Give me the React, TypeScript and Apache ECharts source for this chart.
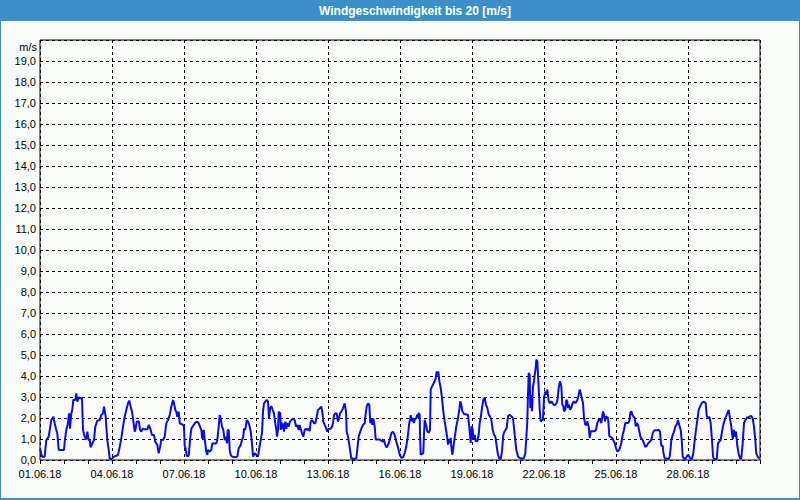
import React, { useEffect, useRef } from "react";
import * as echarts from "echarts";

// Measurement start: 01.06.2018 00:00 (UTC); x values are hours since start
const START_UTC = Date.UTC(2018, 5, 1);
const SPAN_HOURS = 720;
const LABEL_STEP_HOURS = 72;

const hoursSinceStart: number[] = [
  0, 2, 4.7, 6.3, 8.7, 11.3, 13.3, 14.7, 16.3, 17.3, 18.7, 24, 24.7, 26.3, 28, 29, 30, 31.3, 32.3, 33.3,
  35.3, 36.3, 37.3, 38.7, 40.7, 42, 43, 44.7, 46.3, 47.3, 48.7, 49.7, 50.7, 52.3, 54, 55.3, 57.3, 59.7, 61.3, 63,
  64, 65.7, 66.3, 67.3, 68.7, 69.7, 71.3, 74, 78, 79.7, 81.3, 83, 84.7, 86.3, 88, 89.3, 90.7, 92, 93, 94.7,
  95.7, 96.7, 99, 100, 101.3, 102.7, 104.7, 107.3, 108.7, 110.3, 112, 114, 115.3, 117.3, 118.7, 120, 121.3, 123, 124.7, 126.3,
  128, 129.7, 131.3, 133, 134, 135.3, 136.3, 137.3, 138.7, 139.7, 143, 144, 144.7, 145.7, 146.7, 148.7, 150, 151.3, 153, 155.3,
  157.3, 158.7, 160, 161.3, 162.3, 163.7, 164.7, 166.3, 167.3, 168, 169.7, 171.3, 172.3, 176.3, 177.3, 178.7, 179.7, 180.7, 182, 183.3,
  184.7, 186, 187, 187.7, 188.7, 189.7, 190.7, 192, 195.3, 197.3, 198.7, 200.7, 202, 203.3, 204, 205.3, 206.7, 208, 209.3, 210.7,
  212, 213, 214.7, 218, 219.3, 220.7, 222, 223, 224, 226.7, 228, 229, 230, 231.3, 232.7, 234, 235.3, 236.3, 237, 238,
  238.7, 240.3, 240.7, 241.3, 242, 243, 244, 244.7, 245.3, 246.3, 247.3, 248.7, 250, 251.3, 253, 254.7, 256, 257.3, 258.7, 259.7,
  260.7, 262, 263.3, 264.7, 266, 267.3, 268.7, 269.7, 270.7, 272.3, 274, 275.3, 276.7, 278, 279.7, 281.3, 282.3, 283.3, 284.7, 286.3,
  287.3, 288.7, 290.7, 292, 293, 294, 295.3, 296.7, 298, 299, 300, 301.3, 303, 304.7, 306, 306.7, 308, 309.7, 311.3, 314.7,
  316.3, 317.3, 318.7, 319.7, 321.3, 323, 324.7, 325.7, 326.7, 328, 329.3, 330.3, 331.3, 332.3, 333.3, 334.7, 335.7, 339.7, 341.3, 343,
  344, 345.3, 346.7, 348, 349.7, 351.3, 353, 354.7, 356.3, 358, 359.7, 361.3, 363, 364.7, 366.3, 368, 369, 370, 370.7, 372,
  373, 374, 374.7, 376.3, 377.3, 378, 378.7, 379.7, 380, 380.7, 383.3, 384, 384.7, 386, 387.3, 388.7, 390, 390.7, 392, 393.3,
  394.7, 395.7, 396.7, 397.3, 398.3, 399.3, 400.7, 402, 403.3, 404.7, 406, 407.3, 408, 409, 410, 410.7, 411.3, 412.3, 413.3, 414.7,
  416.3, 418, 419.3, 420.3, 421.3, 422.3, 424, 428, 429, 430, 430.7, 431.7, 432.7, 433.3, 434.7, 435.7, 437.3, 438.7, 439.7, 440.7,
  442, 443.3, 444.7, 446, 447.3, 448.7, 450, 451.3, 452.7, 454, 455.3, 456.7, 458, 459.3, 460.7, 462, 463.3, 464.7, 466.7, 468,
  469.7, 471.3, 473, 474.7, 476.3, 478, 479.7, 482, 484, 485.3, 486.3, 487.3, 488, 488.7, 489.7, 490.3, 491.3, 492, 493, 494,
  494.7, 495.7, 496.3, 497.3, 498, 498.7, 499.7, 500.7, 503, 504, 505.3, 506.3, 507.3, 508.7, 510, 511.3, 513, 514.7, 516, 517.3,
  518.7, 520, 521.3, 522.3, 523.3, 524, 525.3, 526.3, 527.3, 528, 529, 530, 531.3, 532.7, 534, 535.3, 536.7, 538, 539.7, 540.7,
  541.7, 543, 544, 545.3, 546.7, 547.3, 548.7, 549.7, 550.7, 554.7, 556, 557.3, 558.7, 560, 561.3, 563, 564, 565, 566, 568,
  568.7, 569.3, 572, 573, 574.7, 576, 577.3, 578.7, 580, 581.3, 582.7, 584, 585.3, 588, 589.3, 590.3, 591.3, 592.3, 593.3, 594.7,
  595.7, 596.7, 598, 599, 600.3, 601.3, 602.7, 604, 605.3, 606.7, 608, 609.7, 611.3, 612.7, 614, 618.7, 620, 620.7, 621.3, 622.7,
  623.3, 624.7, 628.7, 629.7, 630.7, 631.3, 632.7, 634, 635.3, 636.3, 637.3, 638, 639.3, 640.7, 641.7, 642.7, 644, 645.3, 646.7, 648,
  649.3, 650.7, 652, 653.3, 654.7, 656, 657.3, 658.7, 660, 662, 664, 665.7, 666.7, 668, 669.3, 670.7, 672, 673, 674, 676.7,
  678, 679.3, 680.7, 682, 683.3, 684.7, 686, 687.3, 688.7, 690, 691.3, 692.7, 694, 695, 696, 697.3, 698.7, 700, 701.3, 702.7,
  704, 705.3, 707.3, 709.3, 711.3, 712.7, 714, 715.3, 716.3, 718, 719.7,
];

const windSpeed: number[] = [
  0.55, 0.16, 0.16, 0.95, 1.11, 1.9, 2.06, 1.75, 1.43, 1.27, 0.48, 0.48, 0.87, 1.43, 1.75, 2.22, 1.49, 2.22, 2.38, 2.86,
  2.86, 3.17, 2.78, 2.98, 2.94, 2.94, 1.43, 1.11, 0.98, 1.35, 0.95, 0.95, 0.6, 0.79, 0.95, 1.59, 1.87, 1.9, 2.14, 2.22,
  2.54, 2.06, 1.59, 0.95, 0.48, 0.08, 0.03, 0.16, 0.24, 0.63, 1.03, 1.59, 2.06, 2.38, 2.7, 2.83, 2.54, 2.3, 1.98, 1.35,
  1.49, 1.83, 1.83, 1.43, 1.35, 1.49, 1.46, 1.46, 1.67, 1.49, 1.19, 1.19, 0.87, 0.71, 0.32, 0.6, 0.95, 0.95, 1.11, 1.75,
  1.9, 2.14, 2.54, 2.86, 2.7, 2.38, 2.3, 2.06, 2.3, 1.75, 1.67, 1.59, 0.68, 0.52, 0.19, 0.19, 0.95, 1.49, 1.62, 1.78,
  1.83, 1.75, 1.59, 1.43, 1.0, 1.43, 0.98, 0.4, 0.24, 0.48, 0.4, 0.48, 0.79, 0.79, 0.95, 1.59, 2.14, 1.98, 1.59, 1.43,
  0.95, 1.11, 0.79, 1.43, 1.43, 0.48, 0.24, 0.16, 0.13, 0.16, 0.56, 0.71, 0.95, 1.11, 1.49, 1.43, 1.9, 1.83, 1.67, 1.35,
  0.79, 0.16, 0.32, 0.16, 0.56, 0.95, 1.27, 2.3, 2.7, 2.86, 2.78, 1.98, 2.43, 2.57, 2.38, 2.22, 1.75, 1.43, 1.11, 1.43,
  2.3, 2.22, 1.43, 1.83, 1.49, 1.75, 1.35, 1.67, 1.83, 1.49, 1.75, 1.59, 1.83, 1.9, 1.98, 1.9, 1.59, 1.67, 1.43, 1.67,
  1.49, 1.27, 1.11, 1.43, 1.49, 1.43, 1.49, 1.38, 1.83, 1.9, 1.75, 1.75, 2.06, 2.38, 2.46, 2.54, 2.3, 1.83, 1.67, 1.49,
  1.35, 1.49, 1.49, 1.59, 1.75, 2.14, 2.22, 2.22, 1.83, 1.98, 2.22, 2.3, 2.46, 2.7, 2.3, 1.35, 1.11, 0.6, 0.08, 0.05,
  0.08, 0.52, 1.11, 1.27, 1.49, 1.67, 1.75, 2.22, 2.54, 2.7, 2.62, 1.75, 1.98, 1.67, 1.98, 1.59, 0.98, 0.98, 0.92, 0.87,
  0.95, 0.71, 0.6, 0.71, 0.95, 1.27, 1.35, 1.19, 0.87, 0.6, 0.25, 0.1, 0.13, 0.33, 0.65, 1.2, 1.68, 1.92, 2.13, 1.84,
  2.0, 1.76, 1.92, 2.0, 2.16, 2.0, 2.24, 2.16, 1.29, 0.25, 0.33, 1.2, 1.92, 1.68, 1.37, 1.29, 1.44, 3.35, 3.5, 3.62,
  3.75, 3.9, 4.22, 4.03, 4.22, 3.78, 3.43, 2.95, 2.32, 1.84, 1.44, 1.05, 0.73, 0.97, 0.81, 1.05, 0.65, 0.25, 0.57, 1.05,
  1.6, 2.0, 2.4, 2.79, 2.63, 2.32, 2.19, 2.16, 1.68, 1.2, 0.81, 1.6, 1.44, 0.97, 1.2, 0.89, 0.89, 1.2, 1.76, 2.0,
  2.48, 2.87, 2.95, 2.63, 2.48, 2.16, 2.08, 1.92, 1.44, 1.2, 1.13, 0.65, 0.25, 0.06, 0.06, 0.41, 1.2, 1.37, 1.52, 2.08,
  2.16, 2.08, 2.0, 1.2, 0.49, 0.17, 0.1, 0.06, 0.1, 0.33, 1.05, 1.84, 3.11, 4.14, 4.06, 2.48, 3.11, 2.32, 3.5, 3.75,
  4.06, 4.38, 4.78, 4.7, 4.06, 3.43, 2.4, 1.84, 1.92, 2.95, 3.27, 3.11, 3.35, 2.79, 2.71, 2.79, 2.67, 2.6, 2.67, 2.79,
  3.43, 3.75, 3.51, 2.63, 2.56, 2.32, 2.4, 2.87, 2.79, 2.48, 2.63, 2.4, 2.48, 2.71, 2.79, 2.71, 2.79, 2.95, 3.35, 3.19,
  2.95, 2.71, 2.0, 1.68, 1.68, 1.84, 1.6, 1.05, 1.37, 1.37, 1.44, 1.76, 1.92, 1.92, 1.76, 2.32, 2.16, 1.84, 2.08, 2.0,
  1.6, 1.13, 1.05, 0.97, 0.81, 0.57, 0.41, 0.44, 0.57, 0.81, 1.2, 1.44, 1.76, 1.76, 1.84, 2.24, 2.32, 2.16, 2.08, 2.0,
  1.6, 1.76, 1.68, 1.44, 1.13, 1.03, 0.95, 0.79, 0.63, 0.67, 0.79, 0.87, 0.95, 1.27, 1.4, 1.43, 1.35, 0.95, 0.68, 0.68,
  0.37, 0.08, 0.05, 0.16, 0.6, 0.95, 1.19, 1.35, 1.59, 1.67, 1.75, 1.9, 1.67, 1.43, 0.95, 0.16, 0.08, 0.03, 0.16, 0.24,
  0.16, 0.05, 0.05, 0.32, 0.95, 1.43, 1.9, 2.38, 2.54, 2.73, 2.78, 2.7, 2.11, 1.98, 2.06, 1.75, 0.95, 0.16, 0.05, 0.05,
  0.79, 0.87, 0.95, 1.35, 1.67, 1.9, 2.06, 2.22, 2.38, 1.98, 1.59, 1.0, 1.43, 1.11, 1.35, 0.68, 0.29, 0.08, 0.08, 0.79,
  1.75, 1.9, 2.03, 2.06, 2.1, 1.98, 1.59, 0.95, 0.29, 0.13, 0.08,
];

const Y_MIN = 0;
const Y_MAX = 20;
const Y_STEP = 1;
const TITLE = "Windgeschwindigkeit bis 20 [m/s]";
const UNIT = "m/s";

const pad = (n: number) => (n < 10 ? "0" + n : String(n));
const formatDate = (h: number) => {
  const d = new Date(START_UTC + h * 3600000);
  return `${pad(d.getUTCDate())}.${pad(d.getUTCMonth() + 1)}.${String(d.getUTCFullYear()).slice(2)}`;
};

const FONT = "'Liberation Sans', Arial, sans-serif";
const BLUE = "#3d8fca";

export default function App() {
  const ref = useRef<HTMLDivElement>(null);
  useEffect(() => {
    if (!ref.current) return;
    const chart = echarts.init(ref.current, null, { renderer: "svg" });
    const data = hoursSinceStart.map((h, i) => [h, windSpeed[i]]);
    chart.setOption({
      animation: false,
      backgroundColor: "#fbfdfb",
      grid: {
        left: 40,
        right: 40,
        top: 40,
        bottom: 40,
        show: true,
        borderColor: "#000",
        borderWidth: 1,
        backgroundColor: "transparent",
      },
      graphic: [
        { type: "rect", left: 0, top: 0, shape: { width: 800, height: 21 }, style: { fill: BLUE }, silent: true },
        {
          type: "text",
          x: 415,
          y: 11,
          style: {
            text: TITLE,
            fill: "#fff",
            font: `bold 12px ${FONT}`,
            textAlign: "center",
            textVerticalAlign: "middle",
          },
        },
        { type: "rect", shape: { x: 0, y: 0, width: 1, height: 500 }, style: { fill: BLUE }, silent: true },
        { type: "rect", shape: { x: 799, y: 0, width: 1, height: 500 }, style: { fill: BLUE }, silent: true },
        { type: "rect", shape: { x: 0, y: 498, width: 800, height: 2 }, style: { fill: BLUE }, silent: true },
        {
          type: "text",
          x: 37,
          y: 47,
          style: {
            text: UNIT,
            fill: "#000",
            font: `11px ${FONT}`,
            textAlign: "right",
            textVerticalAlign: "middle",
          },
        },
      ],
      xAxis: {
        type: "value",
        min: 0,
        max: SPAN_HOURS,
        interval: LABEL_STEP_HOURS,
        axisLine: { show: false },
        axisTick: { show: true, inside: false, length: 4, lineStyle: { color: "#000" } },
        minorTick: { show: true, splitNumber: 3, length: 4, lineStyle: { color: "#000" } },
        splitLine: { show: true, lineStyle: { color: "#000", type: [3, 3], width: 1 } },
        axisLabel: {
          color: "#000",
          fontFamily: FONT,
          fontSize: 11,
          margin: 8,
          showMaxLabel: false,
          formatter: (v: number) => formatDate(v),
        },
      },
      yAxis: {
        type: "value",
        min: Y_MIN,
        max: Y_MAX,
        interval: Y_STEP,
        axisLine: { show: false },
        axisTick: { show: false },
        splitLine: { show: true, lineStyle: { color: "#000", type: [3, 3], width: 1 } },
        axisLabel: {
          color: "#000",
          fontFamily: FONT,
          fontSize: 11,
          margin: 4,
          showMaxLabel: false,
          padding: [3, 0, 0, 0],
          formatter: (v: number) => v.toFixed(1).replace(".", ","),
        },
      },
      series: [
        {
          type: "line",
          data,
          showSymbol: false,
          lineStyle: { color: "#0a0aee", width: 2 },
          silent: true,
        },
      ],
    });
    return () => chart.dispose();
  }, []);
  return (
    <div
      ref={ref}
      style={{ position: "fixed", left: 0, top: 0, width: 800, height: 500 }}
    />
  );
}
